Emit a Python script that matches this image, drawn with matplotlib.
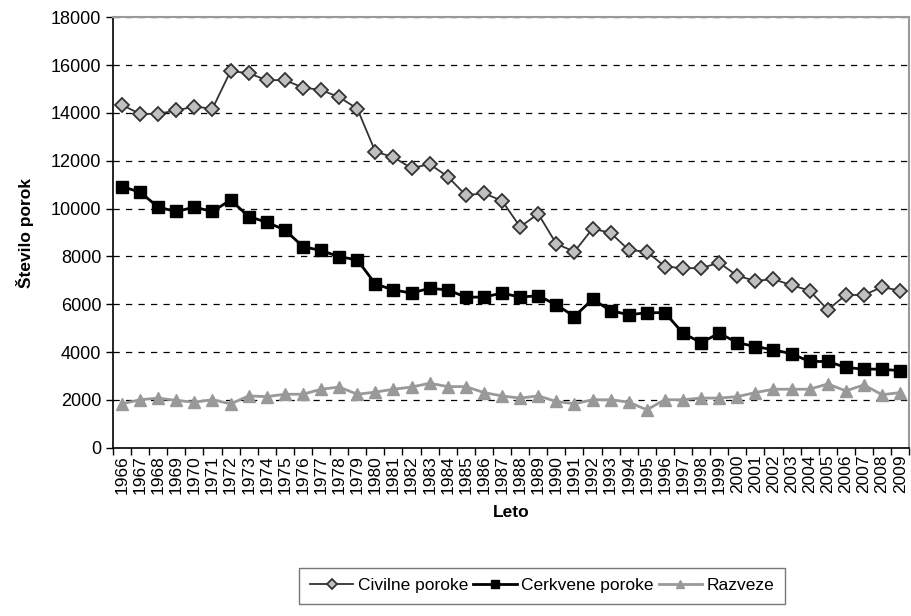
import matplotlib
matplotlib.use("Agg")
import matplotlib.pyplot as plt

plt.rcParams['font.family'] = ['Liberation Sans', 'DejaVu Sans']

years = list(range(1966, 2010))

civilne = [14330, 13960, 13960, 14110, 14260, 14180, 15750, 15660, 15370, 15370,
           15060, 14960, 14660, 14180, 12380, 12150, 11690, 11860, 11340, 10560,
           10640, 10330, 9240, 9780, 8530, 8200, 9160, 8990, 8270, 8200,
           7580, 7510, 7510, 7740, 7190, 6980, 7050, 6800, 6570, 5770,
           6390, 6390, 6720, 6570]

cerkvene = [10920, 10690, 10060, 9880, 10060, 9880, 10360, 9670, 9430, 9110,
            8410, 8250, 7990, 7860, 6850, 6600, 6470, 6670, 6600, 6300,
            6300, 6470, 6300, 6360, 5980, 5490, 6210, 5740, 5560, 5650,
            5650, 4790, 4400, 4790, 4400, 4230, 4100, 3930, 3610, 3610,
            3360, 3290, 3290, 3220]

razveze = [1840, 2010, 2080, 1980, 1910, 2010, 1840, 2170, 2140, 2240,
           2240, 2450, 2540, 2240, 2330, 2450, 2540, 2700, 2560, 2560,
           2310, 2170, 2080, 2170, 1940, 1840, 2010, 2010, 1910, 1590,
           2010, 2010, 2080, 2080, 2140, 2310, 2450, 2450, 2450, 2670,
           2380, 2630, 2220, 2310]

fig = plt.figure(figsize=(9.11, 6.16), dpi=100)
ax = fig.add_axes([0.124, 0.273, 0.874, 0.699])

x = list(range(len(years)))
ax.plot(x, civilne, color='#333333', lw=1.3, marker='D', ms=7,
        mfc='#c0c0c0', mec='#333333', mew=1.3, label='Civilne poroke', zorder=3)
ax.plot(x, cerkvene, color='black', lw=2, marker='s', ms=8,
        mfc='black', mec='black', label='Cerkvene poroke', zorder=3)
ax.plot(x, razveze, color='#999999', lw=2, marker='^', ms=9,
        mfc='#999999', mec='#999999', label='Razveze', zorder=3)

ax.set_xlim(-0.5, len(years) - 0.5)
ax.set_ylim(0, 18000)
ax.set_yticks(range(0, 18001, 2000))
ax.yaxis.grid(True, linestyle=(0, (5, 5)), color='black', lw=0.9)
ax.set_axisbelow(True)

ax.set_xticks([i - 0.5 for i in range(len(years) + 1)])
ax.set_xticklabels([])
ax.set_xticks(x, minor=True)
ax.set_xticklabels([str(y) for y in years], minor=True, rotation=90, fontsize=12.5)
ax.tick_params(axis='x', which='minor', length=0, pad=5)
ax.tick_params(axis='x', which='major', direction='out', length=5, width=1)
ax.tick_params(axis='y', direction='out', length=5, width=1, labelsize=13)

for s in ['left', 'bottom']:
    ax.spines[s].set_color('black')
    ax.spines[s].set_linewidth(1.2)
for s in ['top', 'right']:
    ax.spines[s].set_color('#999999')
    ax.spines[s].set_linewidth(1.5)

ax.set_xlabel('Leto', fontsize=12.5, fontweight='bold', labelpad=8)
ax.set_ylabel('Število porok', fontsize=12.5, fontweight='bold', labelpad=12)

fig.legend(loc='center', bbox_to_anchor=(0.595, 0.049), ncol=3, fontsize=12.5,
           frameon=True, fancybox=False, edgecolor='#555555', handlelength=2.5,
           columnspacing=0.3, handletextpad=0.25, borderpad=0.6, markerscale=0.7)

fig.savefig('out.png', dpi=100)
